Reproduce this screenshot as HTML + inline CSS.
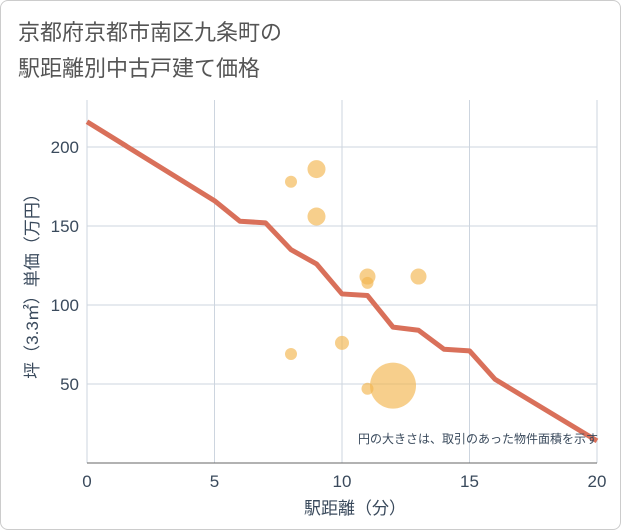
<!DOCTYPE html>
<html><head><meta charset="utf-8"><style>
body{margin:0;background:#fff;font-family:"Liberation Sans","Noto Sans CJK JP",sans-serif;}
#card{position:absolute;left:0;top:0;width:619px;height:528px;border:1px solid #ccc;border-radius:8px;background:#fff;}
</style></head><body>
<div id="card">
<svg id="chart" width="621" height="530" style="position:absolute;left:-1px;top:-1px">
<text x="18" y="40" font-size="22" fill="#555">京都府京都市南区九条町の</text>
<text x="18" y="76" font-size="22" fill="#555">駅距離別中古戸建て価格</text>
<g id="grid"></g><g id="marks"></g><g id="axes"></g>
<text x="598" y="443" font-size="12" fill="#3a4a5c" text-anchor="end">円の大きさは、取引のあった物件面積を示す</text>
<text x="355" y="514" font-size="17" fill="#3a4a5c" text-anchor="middle">駅距離（分）</text>
<text transform="translate(38,282) rotate(-90)" font-size="17" fill="#3a4a5c" text-anchor="middle">坪（3.3㎡）単価（万円）</text>
</svg></div>
<script>
const xTicks=[0,5,10,15,20];
const yTicks=[50,100,150,200];
const lineX=[0,5,6,7,8,9,10,11,12,13,14,15,16,20];
const lineY=[216,166,153,152,135,126,107,106,86,84,72,71,53,14];
const bubX=[8,9,9,8,10,11,11,13,11,12];
const bubY=[178,186,156,69,76,118,114,118,47,49];
const bubR=[6,9,9,6,7,8,6,8,6,23];
const NS="http://www.w3.org/2000/svg";
const X0=87,X1=597,YT=100,YB=463;
const sx=v=>X0+(X1-X0)*v/20;
const sy=v=>YB-v*1.58;
function mk(p,t,a){const e=document.createElementNS(NS,t);for(const k in a)e.setAttribute(k,a[k]);p.appendChild(e);return e;}
const grid=document.getElementById('grid'),marks=document.getElementById('marks'),axes=document.getElementById('axes');
xTicks.forEach(t=>{
const l=mk(grid,'line',{x1:sx(t),x2:sx(t),y1:YT,y2:YB,stroke:'#cdd5df','stroke-width':1});


const tx=mk(axes,'text',{x:sx(t),y:487,'font-size':17,fill:'#3a4a5c','text-anchor':'middle'});tx.textContent=t;


});
yTicks.forEach(t=>{
const l=mk(grid,'line',{x1:X0,x2:X1,y1:sy(t),y2:sy(t),stroke:'#cdd5df','stroke-width':1});


const tx=mk(axes,'text',{x:79,y:sy(t)+6,'font-size':17,fill:'#3a4a5c','text-anchor':'end'});tx.textContent=t;


});
const ax=mk(axes,'line',{x1:X0,x2:X1,y1:YB,y2:YB,stroke:'#666','stroke-width':1});


bubX.forEach((v,i)=>{
const c=mk(marks,'circle',{cx:sx(v),cy:sy(bubY[i]),r:bubR[i],fill:'#f3b54e','fill-opacity':0.65});


});
const pl=mk(marks,'polyline',{points:lineX.map((v,i)=>sx(v)+','+sy(lineY[i])).join(' '),fill:'none',stroke:'#d9705a','stroke-width':5,'stroke-linejoin':'round'});


</script>
</body></html>
